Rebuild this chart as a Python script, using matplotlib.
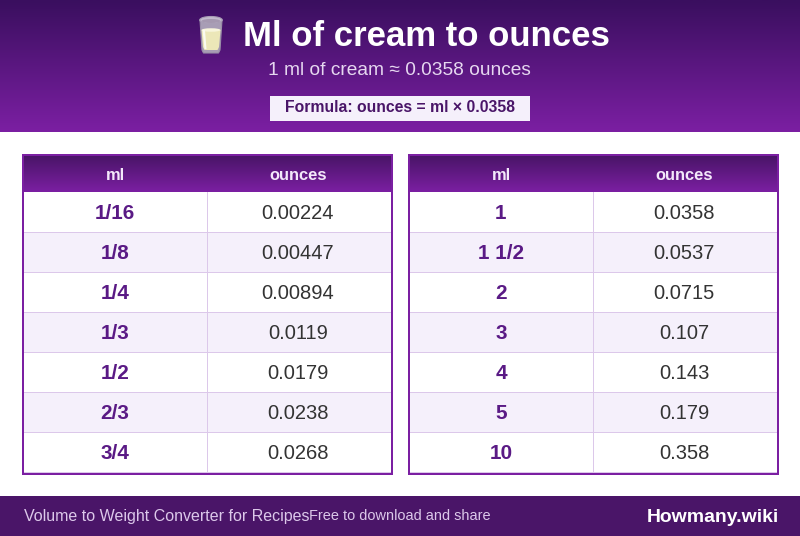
import numpy as np
import matplotlib
matplotlib.use("Agg")
import matplotlib.pyplot as plt
from matplotlib.colors import LinearSegmentedColormap
from matplotlib.patches import Rectangle, Polygon, Ellipse

plt.rcParams['font.family'] = ['Liberation Sans', 'DejaVu Sans']

TITLE = "Ml of cream to ounces"
SUBTITLE = "1 ml of cream ≈ 0.0358 ounces"
FORMULA = "Formula: ounces = ml × 0.0358"
HEADERS = ["ml", "ounces"]
LEFT_ML = ["1/16", "1/8", "1/4", "1/3", "1/2", "2/3", "3/4"]
LEFT_OZ = ["0.00224", "0.00447", "0.00894", "0.0119", "0.0179", "0.0238", "0.0268"]
RIGHT_ML = ["1", "1 1/2", "2", "3", "4", "5", "10"]
RIGHT_OZ = ["0.0358", "0.0537", "0.0715", "0.107", "0.143", "0.179", "0.358"]
FOOT_L = "Volume to Weight Converter for Recipes"
FOOT_M = "Free to download and share"
FOOT_R = "Howmany.wiki"

DARK = "#4a1568"
PURPLE = "#7b1fa2"
INK = "#5a1a85"
LINE = "#dcc8ea"

fig = plt.figure(figsize=(8, 5.36), dpi=100)
ax = fig.add_axes([0, 0, 1, 1])

def px(s):
    return s * 0.72

def grad(x0, x1, y0, y1, c0, c1, z=2):
    cm = LinearSegmentedColormap.from_list("g", [c0, c1])
    ax.imshow(np.linspace(0, 1, 64).reshape(-1, 1), extent=(x0, x1, y1, y0), cmap=cm,
              aspect="auto", zorder=z, interpolation="bilinear")

grad(0, 800, 0, 132, "#3a0f5f", PURPLE)

# glass icon
ax.add_patch(Polygon([(200, 20), (222, 20), (220, 50), (218.5, 53), (203.5, 53), (202, 50)], closed=True,
                     fc="#a89db5", ec="#9a8fa8", lw=0.8, zorder=3))
ax.add_patch(Ellipse((211, 20), 22.5, 7, fc="#c3bacd", ec="#a89db5", lw=0.8, zorder=3))
ax.add_patch(Ellipse((211, 21), 19, 4, fc="#a598b0", ec="none", zorder=4))
ax.add_patch(Polygon([(201.5, 30), (220.5, 30), (219, 47), (217.5, 50), (204.5, 50), (203, 47)], closed=True,
                     fc="#ece7b8", ec="none", zorder=4))
ax.add_patch(Ellipse((211, 30), 19, 3.5, fc="#f8f5dc", ec="none", zorder=5))
ax.add_patch(Polygon([(202.5, 30), (205, 30), (206.5, 49), (204.5, 49)], closed=True, fc="#fbfbf0", ec="none", zorder=5))

ax.text(426.5, 37, TITLE, color="white", fontsize=px(34.75), fontweight="bold", ha="center", va="center", zorder=5)
ax.text(399.5, 70.5, SUBTITLE, color="#e6d8f0", fontsize=px(19.2), ha="center", va="center", zorder=5)
ax.add_patch(Rectangle((270, 96), 260, 25, fc="#f5f0fb", ec="none", zorder=3))
ax.text(400, 108, FORMULA, color=DARK, fontsize=px(15.7), fontweight="bold", ha="center", va="center", zorder=5)

def table(x0, mls, ozs):
    w = 371
    top, bottom = 154, 475
    ax.add_patch(Rectangle((x0, top), w, bottom - top, fc=PURPLE, ec="none", zorder=2))
    grad(x0 + 2, x0 + w - 2, top + 2, 192, DARK, PURPLE, z=3)
    split = x0 + 185
    ax.text(x0 + 93, 175, HEADERS[0], color="#f3e8fa", fontsize=px(16.5), fontweight="bold", ha="center", va="center", zorder=5)
    ax.text(x0 + 276.5, 175, HEADERS[1], color="#f3e8fa", fontsize=px(16.5), fontweight="bold", ha="center", va="center", zorder=5)
    for i, (m, o) in enumerate(zip(mls, ozs)):
        y = 192 + 40 * i
        ax.add_patch(Rectangle((x0 + 2, y), w - 4, 40 if i < 6 else 41, fc="white" if i % 2 == 0 else "#f5f0fb", ec="none", zorder=3))
        ax.add_patch(Rectangle((x0 + 2, y + 40), w - 4, 1, fc=LINE, ec="none", zorder=4))
        ax.text(x0 + 93, y + 21.4, m, color=INK, fontsize=px(20.8), fontweight="bold", ha="center", va="center", zorder=5)
        ax.text(x0 + 276, y + 21.4, o, color="#333333", fontsize=px(20.2), ha="center", va="center", zorder=5)
    ax.add_patch(Rectangle((split, 192), 1, bottom - 194, fc=LINE, ec="none", zorder=4))

table(22, LEFT_ML, LEFT_OZ)
table(408, RIGHT_ML, RIGHT_OZ)

ax.add_patch(Rectangle((0, 496), 800, 40, fc=DARK, ec="none", zorder=2))
ax.text(24, 516, FOOT_L, color="#dcc8ea", fontsize=px(16), ha="left", va="center", zorder=5)
ax.text(309, 516.5, FOOT_M, color="#dcc8ea", fontsize=px(14.5), ha="left", va="center", zorder=5)
ax.text(778.5, 517, FOOT_R, color="white", fontsize=px(19.4), fontweight="bold", ha="right", va="center", zorder=5)

ax.set_xlim(0, 800)
ax.set_ylim(536, 0)
ax.axis("off")
fig.savefig("out.png", dpi=100)
